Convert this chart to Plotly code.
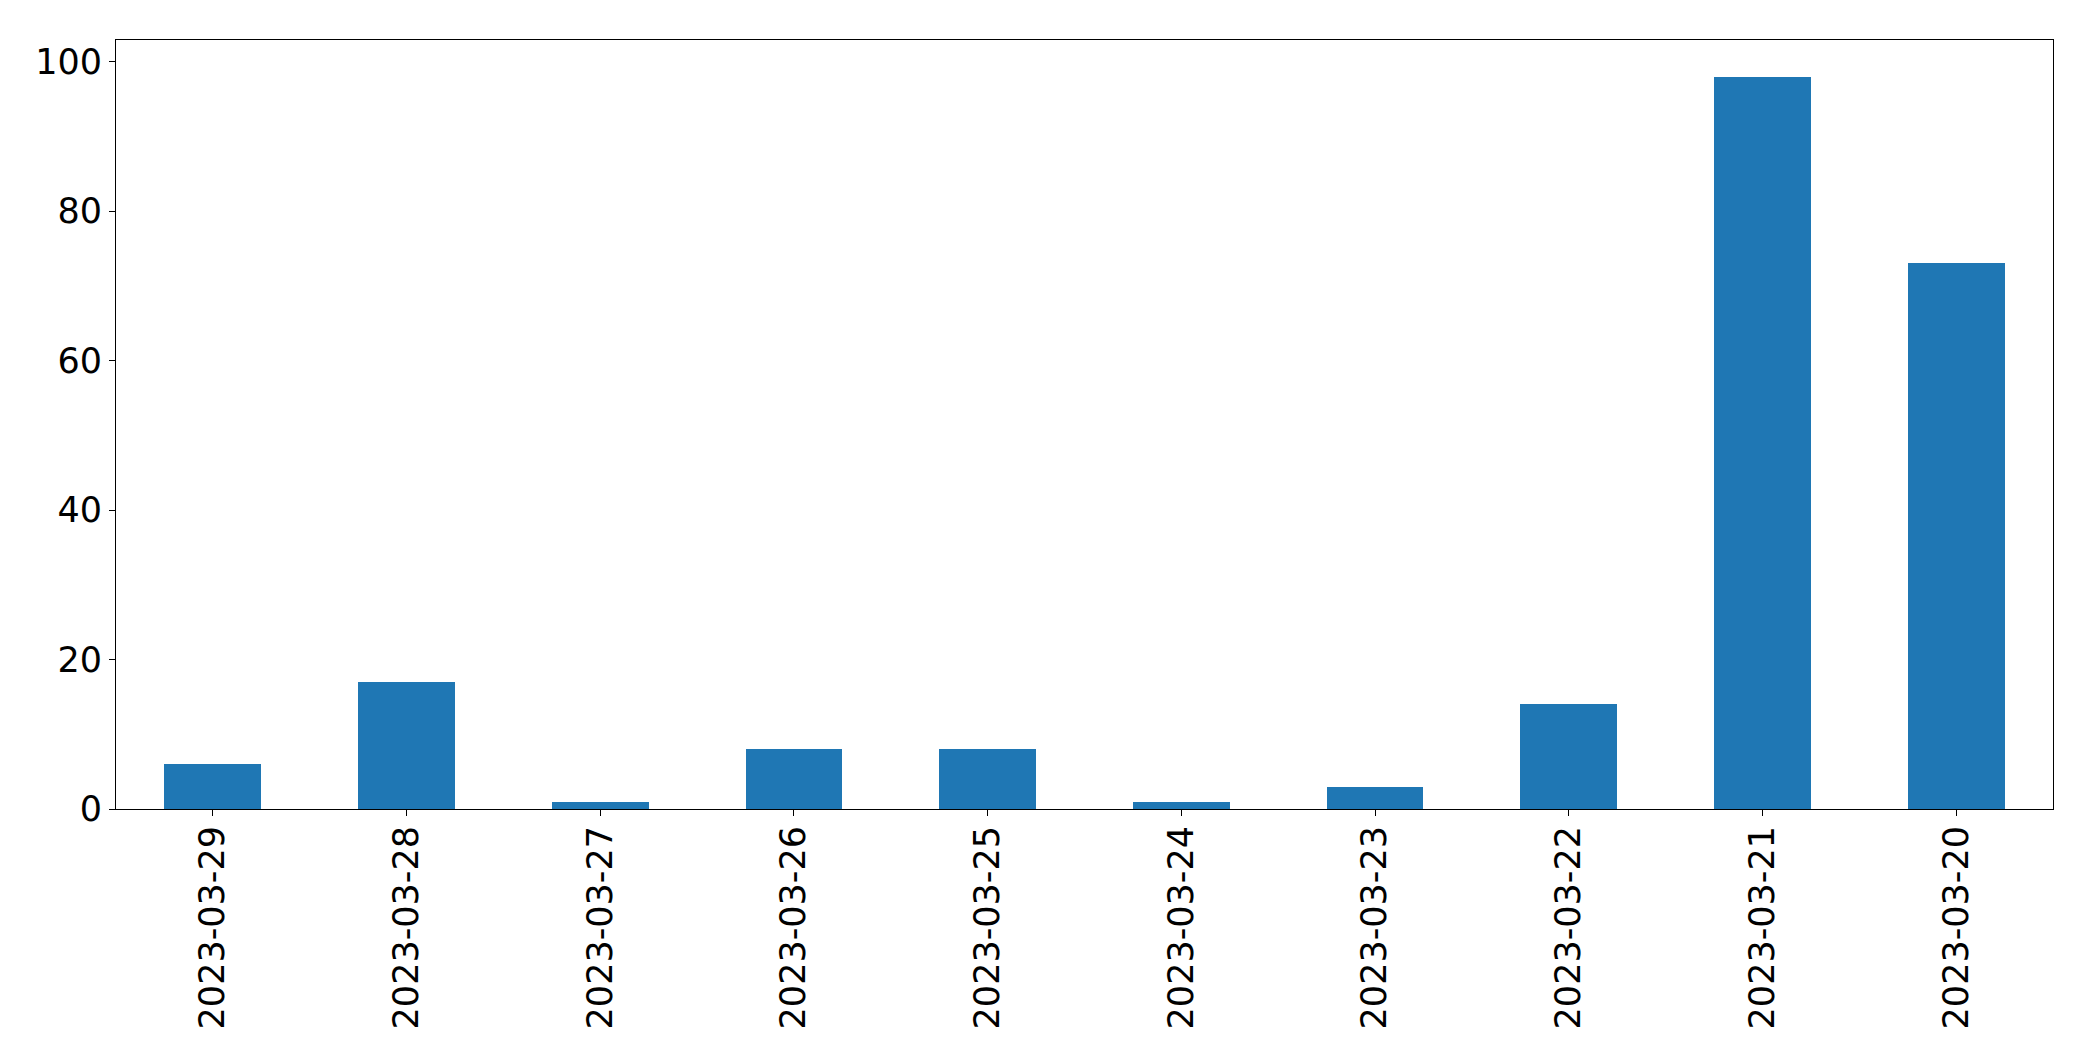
import plotly.graph_objects as go

dates = ["2023-03-29", "2023-03-28", "2023-03-27", "2023-03-26", "2023-03-25",
         "2023-03-24", "2023-03-23", "2023-03-22", "2023-03-21", "2023-03-20"]
counts = [6, 17, 1, 8, 8, 1, 3, 14, 98, 73]
y_ticks = [0, 20, 40, 60, 80, 100]

fig = go.Figure(go.Bar(x=dates, y=counts, width=0.5, marker=dict(color="#1f77b4", line=dict(width=0))))

fig.update_layout(
    width=2093, height=1061,
    margin=dict(l=116, r=40, t=40, b=252, pad=0),
    paper_bgcolor="white", plot_bgcolor="white",
    font=dict(family="DejaVu Sans", size=35, color="black"),
    showlegend=False,
    bargap=0,
)
fig.update_xaxes(type="category", range=[-0.5, 9.5], tickangle=-90, automargin=False,
                 ticklabelstandoff=-4,
                 showline=True, linecolor="black", linewidth=1, mirror=True,
                 ticks="outside", ticklen=6, tickcolor="black", tickwidth=1,
                 showgrid=False, zeroline=False)
fig.update_yaxes(range=[0, 102.9], tickvals=y_ticks, automargin=False,
                 showline=True, linecolor="black", linewidth=1, mirror=True,
                 ticks="outside", ticklen=6, tickcolor="black", tickwidth=1,
                 showgrid=False, zeroline=False)

fig.write_html("out.html", config={"displayModeBar": False},
               post_script="document.body.style.margin='0';document.body.style.padding='0';")
